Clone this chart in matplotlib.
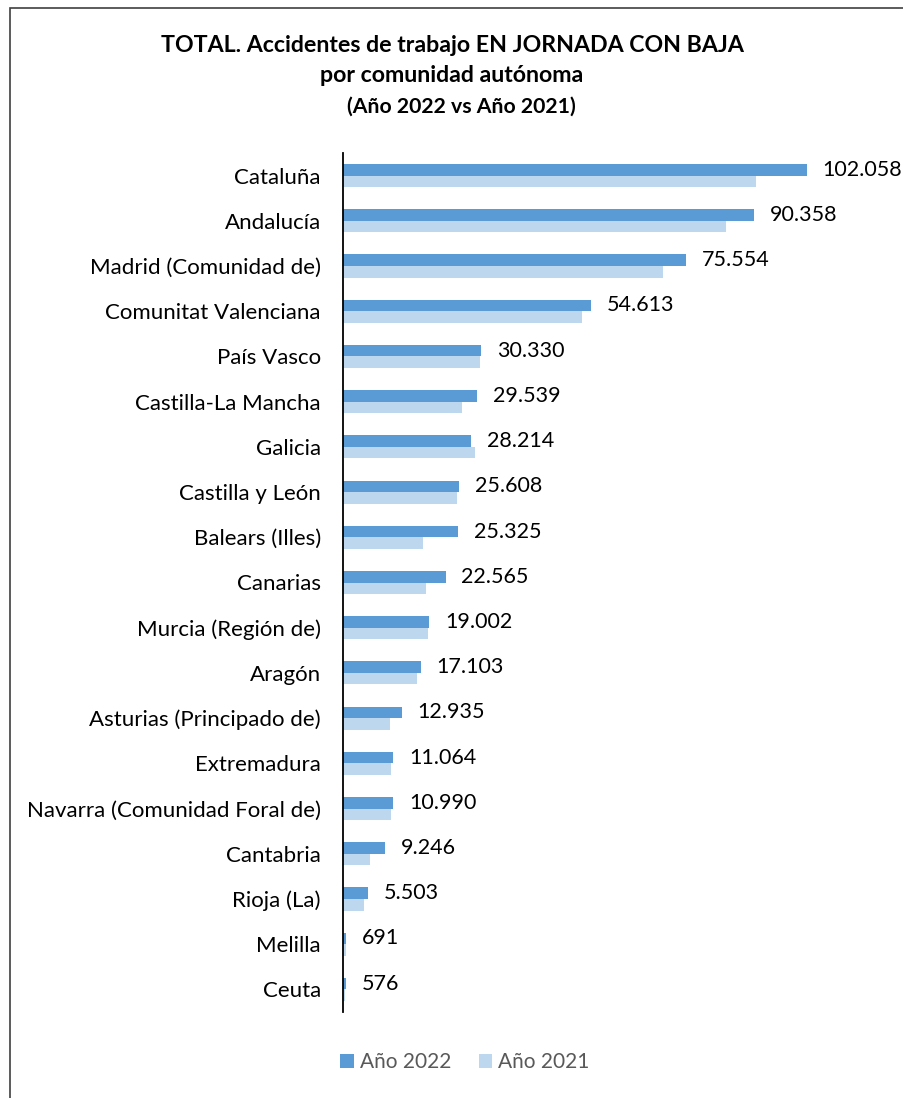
import matplotlib
matplotlib.use("Agg")
import matplotlib.pyplot as plt
from matplotlib.patches import Rectangle, Patch
import numpy as np

plt.rcParams['font.family'] = ['Lato', 'DejaVu Sans']

categories = ["Cataluña", "Andalucía", "Madrid (Comunidad de)", "Comunitat Valenciana",
              "País Vasco", "Castilla-La Mancha", "Galicia", "Castilla y León",
              "Balears (Illes)", "Canarias", "Murcia (Región de)", "Aragón",
              "Asturias (Principado de)", "Extremadura", "Navarra (Comunidad Foral de)",
              "Cantabria", "Rioja (La)", "Melilla", "Ceuta"]
values_2022 = [102058, 90358, 75554, 54613, 30330, 29539, 28214, 25608, 25325,
               22565, 19002, 17103, 12935, 11064, 10990, 9246, 5503, 691, 576]
values_2021 = [90840, 84380, 70520, 52690, 30240, 26280, 29050, 25180, 17700,
               18200, 18800, 16380, 10280, 10650, 10500, 6030, 4560, 640, 480]
value_labels = ["102.058", "90.358", "75.554", "54.613", "30.330", "29.539", "28.214",
                "25.608", "25.325", "22.565", "19.002", "17.103", "12.935", "11.064",
                "10.990", "9.246", "5.503", "691", "576"]
series_names = ["Año 2022", "Año 2021"]

c2022 = "#5B9BD5"
c2021 = "#BDD7EE"

W, H = 904, 1098
fig = plt.figure(figsize=(W / 100, H / 100), dpi=100)

# outer border (right and bottom edges fall outside the image)
fig.patches.append(Rectangle((10 / W, -10 / H), (W + 10) / W, (H + 2) / H,
                             transform=fig.transFigure, fill=False,
                             edgecolor="#404040", linewidth=1.2))

ax_left = 343 / W
ax_right = 865.5 / W
ax_top = 1 - 153 / H
ax_bottom = 1 - 1012 / H
ax = fig.add_axes([ax_left, ax_bottom, ax_right - ax_left, ax_top - ax_bottom])

y = np.arange(len(categories))
bh = 0.255
ax.barh(y - bh / 2, values_2022, height=bh, color=c2022, label=series_names[0])
ax.barh(y + bh / 2, values_2021, height=bh, color=c2021, label=series_names[1])

ax.set_xlim(0, 115000)
ax.set_ylim(len(categories) - 0.5, -0.5)
ax.set_yticks(y)
ax.set_yticklabels(categories, fontsize=16, color="black")
ax.tick_params(axis="y", length=0, pad=16)
ax.set_xticks([])
for s in ["top", "right", "bottom"]:
    ax.spines[s].set_visible(False)
ax.spines["left"].set_linewidth(1.3)
ax.spines["left"].set_color("black")

for yi, v, lab in zip(y, values_2022, value_labels):
    ax.annotate(lab, xy=(v, yi - bh / 2), xytext=(11.5, 0), textcoords="offset points",
                ha="left", va="center", fontsize=15.5, color="black")

# title
fig.text(452 / W, 1 - 45 / H, "TOTAL. Accidentes de trabajo EN JORNADA CON BAJA",
         ha="center", va="center", fontsize=16.7, fontweight="bold")
fig.text(452 / W, 1 - 76 / H, "por comunidad autónoma",
         ha="center", va="center", fontsize=16.7, fontweight="bold")
fig.text(461 / W, 1 - 107 / H, "(Año 2022 vs Año 2021)",
         ha="center", va="center", fontsize=15.3, fontweight="bold")

handles = [Patch(facecolor=c2022, edgecolor="none"), Patch(facecolor=c2021, edgecolor="none")]
fig.legend(handles, series_names, loc="center", bbox_to_anchor=(465 / W, 1 - 1062 / H),
           ncol=2, frameon=False, fontsize=15, labelcolor="#595959",
           handlelength=0.65, handleheight=0.65, handletextpad=0.3, columnspacing=1.3)

fig.savefig("out.png", dpi=100)
